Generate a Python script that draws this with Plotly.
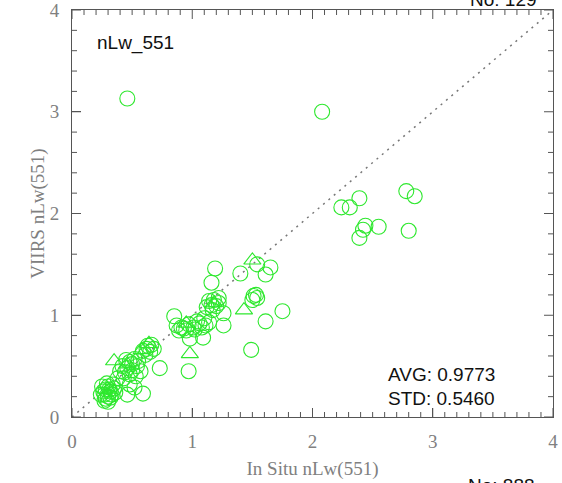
import plotly.graph_objects as go

# ---- data ----
circle_x = [0.46, 2.08,
            2.24, 2.31, 2.39, 2.44, 2.42, 2.39, 2.55, 2.78, 2.85, 2.80,
            1.19, 1.16, 1.40, 1.54, 1.65, 1.61, 1.51, 1.54, 1.50, 1.53, 1.75, 1.61, 1.49, 1.26, 1.26,
            1.18, 1.22, 1.16, 1.14, 1.20, 1.22, 1.17, 1.12,
            1.10, 1.06, 1.11, 1.14, 1.08, 1.04,
            0.85, 0.87, 0.91, 0.95, 0.89, 0.97, 1.01, 0.93, 1.02, 0.98, 0.97, 1.09,
            0.63, 0.66, 0.68, 0.62, 0.59, 0.65, 0.61, 0.73,
            0.45, 0.48, 0.50, 0.52, 0.42, 0.46, 0.50, 0.54, 0.44, 0.40, 0.55, 0.48, 0.53, 0.38, 0.43, 0.57,
            0.52, 0.59, 0.48, 0.46,
            0.25, 0.28, 0.30, 0.32, 0.27, 0.30, 0.33, 0.35, 0.29, 0.26, 0.31, 0.34, 0.28, 0.32, 0.24, 0.36, 0.30, 0.27]
circle_y = [3.13, 3.00,
            2.06, 2.06, 2.15, 1.88, 1.84, 1.76, 1.87, 2.22, 2.17, 1.83,
            1.46, 1.32, 1.41, 1.50, 1.47, 1.40, 1.19, 1.17, 1.15, 1.20, 1.04, 0.94, 0.66, 1.02, 0.90,
            1.15, 1.17, 1.10, 1.14, 1.09, 1.12, 1.05, 1.08,
            0.97, 0.92, 0.90, 0.93, 0.88, 0.94,
            0.99, 0.90, 0.88, 0.85, 0.85, 0.91, 0.88, 0.87, 0.86, 0.77, 0.45, 0.78,
            0.70, 0.71, 0.67, 0.67, 0.65, 0.64, 0.61, 0.48,
            0.56, 0.54, 0.52, 0.57, 0.50, 0.48, 0.46, 0.50, 0.44, 0.45, 0.55, 0.42, 0.40, 0.38, 0.38, 0.45,
            0.29, 0.23, 0.32, 0.22,
            0.30, 0.27, 0.30, 0.25, 0.22, 0.20, 0.22, 0.28, 0.33, 0.25, 0.27, 0.32, 0.18, 0.19, 0.22, 0.24, 0.15, 0.16]

tri_x = [1.50, 1.43, 0.98, 0.35, 0.64, 0.58, 0.95, 1.18, 0.30, 0.46]
tri_y = [1.54, 1.05, 0.62, 0.55, 0.72, 0.66, 0.92, 1.12, 0.27, 0.52]

line_x = [0, 4]
line_y = [0, 4]

axis_range = [0, 4]
major_step = 1
x_minor_per_major = 10
y_minor_per_major = 5

GREEN = "#2ee82e"
GRAY = "#808080"
FRAME = "#555555"

fig = go.Figure()
fig.add_trace(go.Scatter(x=line_x, y=line_y, mode="lines",
                         line=dict(color="#777777", width=1.5, dash="2px,5px"),
                         hoverinfo="skip", showlegend=False))
fig.add_trace(go.Scatter(x=circle_x, y=circle_y, mode="markers",
                         marker=dict(symbol="circle-open", size=15, color=GREEN,
                                     line=dict(color=GREEN, width=1.1)),
                         showlegend=False))
fig.add_trace(go.Scatter(x=tri_x, y=tri_y, mode="markers",
                         marker=dict(symbol="triangle-up-open", size=15, color=GREEN,
                                     line=dict(color=GREEN, width=1.1)),
                         showlegend=False))

axis_common = dict(
    range=axis_range, tickmode="linear", tick0=0, dtick=major_step,
    showgrid=False, zeroline=False, showline=True, linecolor=FRAME, linewidth=1,
    mirror=True, ticks="inside", ticklen=9, tickcolor=FRAME, tickwidth=1,
    tickfont=dict(family="Liberation Serif", size=19, color=GRAY),
    ticklabeloverflow="allow",
    automargin=False,
)

fig.update_xaxes(title=dict(text="In Situ nLw(551)", font=dict(family="Liberation Serif", size=19, color=GRAY),
                            standoff=10),
                 ticklabelstandoff=7,
                 **axis_common)
fig.update_yaxes(title=dict(text="VIIRS nLw(551)", font=dict(family="Liberation Serif", size=19, color=GRAY),
                            standoff=0),
                 ticklabelstandoff=8,
                 **axis_common)

# tick marks on all four sides of the frame (major + minor), anchored in data units, length in pixels
tick_shapes = []
lo, hi = axis_range
n_x = int(round((hi - lo) / major_step * x_minor_per_major))
n_y = int(round((hi - lo) / major_step * y_minor_per_major))
for i in range(n_x + 1):
    v = lo + i * (hi - lo) / n_x
    L = 9 if i % x_minor_per_major == 0 else 5
    for anchor, sgn in ((lo, 1), (hi, -1)):
        tick_shapes.append(dict(type="line", xref="x", yref="y", ysizemode="pixel", yanchor=anchor,
                                x0=v, x1=v, y0=0, y1=sgn * L, line=dict(color=FRAME, width=1)))
for i in range(n_y + 1):
    v = lo + i * (hi - lo) / n_y
    L = 9 if i % y_minor_per_major == 0 else 5
    for anchor, sgn in ((lo, 1), (hi, -1)):
        tick_shapes.append(dict(type="line", xref="x", yref="y", xsizemode="pixel", xanchor=anchor,
                                y0=v, y1=v, x0=0, x1=sgn * L, line=dict(color=FRAME, width=1)))

ann_font = dict(family="Liberation Sans", size=19, color="#111111")
fig.update_layout(
    width=562, height=483,
    margin=dict(l=72, r=9, t=10, b=66),
    plot_bgcolor="white", paper_bgcolor="white",
    shapes=tick_shapes,
    annotations=[
        dict(text="nLw_551", xref="paper", yref="paper", x=(95 - 72) / 481, y=(417 - 43) / 407,
             xanchor="left", yanchor="middle", showarrow=False, font=ann_font),
        dict(text="AVG: 0.9773", xref="paper", yref="paper", x=(386 - 72) / 481, y=(417 - 374) / 407,
             xanchor="left", yanchor="middle", showarrow=False, font=ann_font),
        dict(text="STD: 0.5460", xref="paper", yref="paper", x=(386 - 72) / 481, y=(417 - 398) / 407,
             xanchor="left", yanchor="middle", showarrow=False, font=ann_font),
        dict(text="No: 129", xref="paper", yref="paper", x=(468 - 72) / 481, y=(417 + 1) / 407,
             xanchor="left", yanchor="middle", showarrow=False, font=ann_font),
        dict(text="No: 888", xref="paper", yref="paper", x=(466 - 72) / 481, y=(417 - 485) / 407,
             xanchor="left", yanchor="middle", showarrow=False, font=ann_font),
    ],
)

fig.write_html("out.html", config={"displayModeBar": False},
               post_script="document.body.style.margin='0';")
